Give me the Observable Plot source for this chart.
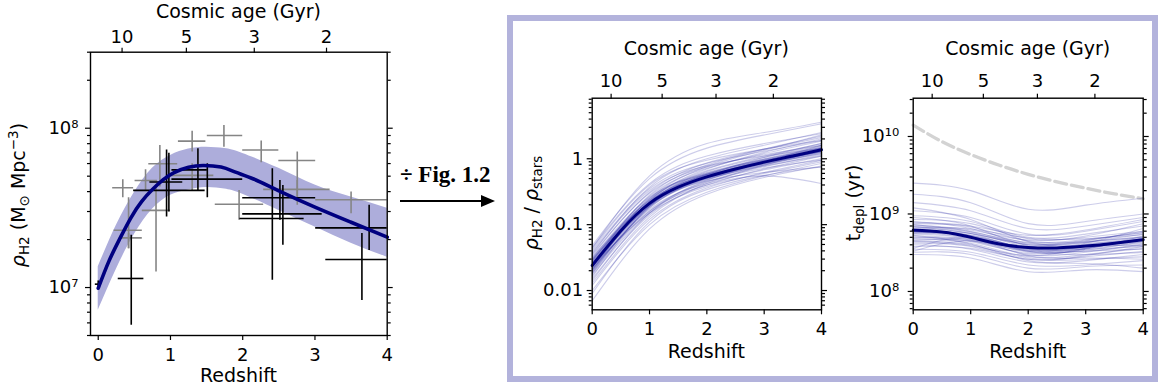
<!DOCTYPE html>
<html><head><meta charset="utf-8">
<script src="https://cdn.jsdelivr.net/npm/d3@7"></script>
<script src="https://cdn.jsdelivr.net/npm/@observablehq/plot@0.6"></script>
<style>
body{margin:0;background:#fff;font-family:"DejaVu Sans",sans-serif;}
#wrap{position:relative;width:1162px;height:388px;overflow:hidden;background:#fff;}
#wrap svg{position:absolute;overflow:visible;max-width:none;}
.box{position:absolute;left:507px;top:15px;width:639px;height:355px;border:6px solid #b3b3dc;}
</style></head><body><div id="wrap"><div class="box"></div></div>
<script>
// ---------- shared axis ticks ----------
const redshiftTicks = [0, 1, 2, 3, 4];
const ageTickZ = [0.33, 1.22, 2.16, 3.16];
const ageTickLabels = ["10", "5", "3", "2"];

// ---------- panel 1: rho_H2 ----------
const rhoZ      = [0, 0.15, 0.3, 0.45, 0.6, 0.75, 0.9, 1.05, 1.25, 1.45, 1.7, 1.9, 2.15, 2.5, 3, 3.5, 4];
const rhoMedian = [9.9e6, 1.47e7, 2.03e7, 2.73e7, 3.46e7, 4.12e7, 4.75e7, 5.27e7, 5.68e7, 5.84e7, 5.7e7, 5.3e7, 4.8e7, 4.05e7, 3.2e7, 2.57e7, 2.07e7];
const bandZ     = [0, 0.25, 0.5, 0.75, 1, 1.25, 1.5, 1.75, 2, 2.5, 3, 3.5, 4];
const rhoUpper  = [1.35e7, 2.45e7, 3.95e7, 5.6e7, 6.75e7, 7.4e7, 7.6e7, 7.45e7, 6.95e7, 5.6e7, 4.4e7, 3.7e7, 3.15e7];
const rhoLower  = [7.2e6, 1.3e7, 2.15e7, 3.1e7, 3.8e7, 4.1e7, 4.25e7, 4.15e7, 3.85e7, 3.05e7, 2.4e7, 1.9e7, 1.55e7];

const grayZ     = [0.34, 0.655, 0.853, 0.80, 0.42, 0.42, 1.30, 1.74, 2.256, 2.755, 2.755, 3.50, 1.95, 1.30];
const grayZLo   = [0.20, 0.51, 0.70, 0.61, 0.22, 0.29, 1.11, 1.51, 2.0, 2.5, 2.29, 3.01, 1.62, 1.02];
const grayZHi   = [0.49, 0.82, 1.10, 1.00, 0.61, 0.61, 1.49, 2.0, 2.5, 3.01, 3.21, 4.2, 2.29, 1.60];
const grayRho   = [4.23e7, 4.7e7, 5.98e7, 3.05e7, 2.29e7, 2.05e7, 8.3e7, 9.0e7, 7.3e7, 6.27e7, 4.13e7, 3.56e7, 3.33e7, 5.06e7];
const grayRhoLo = [3.66e7, 4.08e7, 4.27e7, 1.25e7, 1.75e7, 1.75e7, 7.08e7, 7.6e7, 6.07e7, 3.28e7, 3.52e7, 2.9e7, 2.64e7, 4.07e7];
const grayRhoHi = [4.74e7, 5.48e7, 7.78e7, 4.27e7, 3.66e7, 2.18e7, 9.57e7, 1.04e8, 8.3e7, 7.08e7, 4.7e7, 3.98e7, 4.07e7, 5.98e7];

const blackZ     = [0.0, 0.457, 0.946, 0.978, 1.38, 1.51, 2.41, 2.515, 2.556, 3.75, 3.65];
const blackZLo   = [-0.04, 0.277, 0.49, 0.715, 1.02, 1.02, 2.0, 2.0, 1.96, 3.01, 3.15];
const blackZHi   = [0.04, 0.632, 1.48, 1.17, 1.51, 2.0, 3.01, 3.1, 2.85, 4.2, 4.2];
const blackRho   = [1.05e7, 1.14e7, 4.07e7, 4.6e7, 5.48e7, 4.79e7, 3.66e7, 2.9e7, 2.71e7, 2.37e7, 1.5e7];
const blackRhoLo = [1.0e7, 5.8e6, 2.77e7, 2.98e7, 4.07e7, 3.66e7, 1.11e7, 2.64e7, 1.84e7, 1.71e7, 8.3e6];
const blackRhoHi = [1.1e7, 2.13e7, 7.3e7, 6.97e7, 7.43e7, 5.98e7, 5.56e7, 4.7e7, 4.37e7, 3.28e7, 2.18e7];

// ---------- panel 2: rho_H2 / rho_stars ----------
const ratioZ      = [0, 0.5, 1, 1.5, 2, 2.5, 3, 3.5, 4];
const ratioMedian = [0.024, 0.081, 0.21, 0.37, 0.53, 0.70, 0.89, 1.1, 1.37];
const drawZ = [0, 1, 2, 3, 4];
const ratioDraws = [
  [0.030,0.25,0.62,0.98,1.45],[0.020,0.18,0.50,0.85,1.30],[0.027,0.24,0.66,1.10,1.70],
  [0.018,0.16,0.45,0.76,1.15],[0.035,0.30,0.75,1.15,1.60],[0.015,0.14,0.40,0.70,1.10],
  [0.022,0.22,0.60,1.00,1.55],[0.026,0.19,0.48,0.80,1.25],[0.040,0.35,0.85,1.30,1.90],
  [0.012,0.12,0.36,0.62,0.95],[0.028,0.27,0.72,1.20,1.85],[0.021,0.17,0.42,0.68,1.00],
  [0.045,0.42,1.10,1.70,2.40],[0.010,0.10,0.31,0.55,0.85],[0.032,0.23,0.55,0.88,1.30],
  [0.019,0.20,0.58,0.98,1.50],[0.048,0.50,1.45,2.30,3.40],[0.007,0.086,0.29,0.52,0.78],
  [0.025,0.28,0.80,1.40,2.20],[0.023,0.15,0.38,0.60,0.90],[0.038,0.33,0.78,1.10,1.45],
  [0.016,0.19,0.57,1.05,1.70],[0.029,0.21,0.50,0.78,1.10],[0.020,0.23,0.70,1.25,2.00],
  [0.042,0.40,0.95,1.40,1.90],[0.013,0.13,0.42,0.80,1.35],[0.031,0.26,0.58,0.85,1.20],
  [0.024,0.25,0.76,1.35,2.30],[0.017,0.15,0.44,0.72,0.95],[0.036,0.37,1.00,1.60,2.50],
  [0.009,0.11,0.34,0.56,0.75],[0.027,0.20,0.46,0.62,0.75],[0.044,0.55,1.70,2.50,3.60],
  [0.014,0.15,0.47,0.90,1.60],[0.033,0.31,0.86,1.40,2.10],[0.021,0.16,0.40,0.55,0.42],
  [0.025,0.22,0.64,1.05,1.60],[0.019,0.18,0.53,0.92,1.40],[0.029,0.24,0.60,0.95,1.35],
  [0.022,0.20,0.52,0.82,1.20],[0.024,0.22,0.57,0.93,1.42],[0.026,0.21,0.54,0.86,1.28],
  [0.023,0.19,0.51,0.88,1.36],[0.028,0.23,0.56,0.90,1.33],[0.021,0.21,0.58,0.96,1.48],
  [0.025,0.20,0.49,0.83,1.26],[0.030,0.22,0.53,0.87,1.30],[0.018,0.19,0.55,0.94,1.45]
];

// ---------- panel 3: depletion time ----------
const deplZ      = [0, 0.5, 1, 1.5, 2, 2.5, 3, 3.5, 4];
const deplMedian = [6.15e8, 5.85e8, 5.0e8, 4.1e8, 3.7e8, 3.65e8, 3.85e8, 4.2e8, 4.65e8];
const ageLine    = [1.4e10, 8.6e9, 5.85e9, 4.25e9, 3.25e9, 2.6e9, 2.15e9, 1.82e9, 1.57e9];
const deplDraws = [
  [2.5e9,2.0e9,1.15e9,1.3e9,1.6e9],[1.8e9,1.4e9,7.5e8,8.0e8,1.0e9],[1.4e9,1.1e9,6.5e8,7.0e8,9.0e8],
  [1.1e9,9.0e8,5.5e8,6.0e8,8.0e8],[9.5e8,8.0e8,5.0e8,5.5e8,7.0e8],[8.5e8,7.5e8,4.8e8,5.0e8,6.0e8],
  [8.0e8,6.5e8,4.2e8,4.6e8,5.8e8],[7.5e8,6.8e8,4.5e8,4.4e8,5.0e8],[7.0e8,6.0e8,4.0e8,4.3e8,5.5e8],
  [6.8e8,5.8e8,3.8e8,4.2e8,6.5e8],[6.5e8,5.6e8,3.5e8,3.6e8,4.2e8],[6.0e8,5.2e8,3.4e8,3.8e8,4.8e8],
  [5.8e8,5.3e8,3.6e8,3.5e8,3.8e8],[5.5e8,4.8e8,3.2e8,3.4e8,4.4e8],[5.2e8,4.6e8,3.0e8,3.2e8,4.0e8],
  [5.0e8,4.4e8,3.1e8,3.5e8,5.2e8],[4.8e8,4.2e8,2.8e8,3.0e8,3.6e8],[4.5e8,4.0e8,2.7e8,2.8e8,3.3e8],
  [4.2e8,3.8e8,2.6e8,2.9e8,3.8e8],[4.0e8,3.5e8,2.4e8,2.5e8,3.0e8],[3.8e8,3.6e8,2.6e8,2.6e8,2.8e8],
  [3.5e8,3.2e8,2.2e8,2.2e8,2.5e8],[3.2e8,3.0e8,2.0e8,2.1e8,2.2e8],[3.0e8,2.7e8,1.8e8,1.9e8,1.8e8],
  [3.3e8,4.5e8,3.3e8,3.0e8,3.2e8],[3.6e8,5.0e8,3.6e8,4.0e8,5.0e8],[9.0e8,7.0e8,3.9e8,4.1e8,4.6e8],
  [7.2e8,6.2e8,4.6e8,5.2e8,7.5e8],[6.3e8,5.0e8,2.9e8,2.7e8,2.6e8],[5.6e8,5.6e8,4.0e8,4.5e8,6.0e8],
  [1.2e9,8.5e8,4.4e8,3.9e8,3.9e8],[6.6e8,6.4e8,4.9e8,4.8e8,5.4e8],[4.6e8,4.5e8,3.3e8,3.3e8,3.5e8],
  [5.3e8,4.1e8,2.5e8,2.3e8,2.0e8],[7.8e8,7.0e8,5.3e8,6.2e8,8.5e8],[4.4e8,3.9e8,2.9e8,3.6e8,4.6e8],
  [6.4e8,5.3e8,3.7e8,3.9e8,4.7e8],[5.9e8,4.9e8,3.5e8,3.7e8,4.4e8],[6.9e8,5.6e8,4.1e8,4.3e8,5.1e8],
  [5.7e8,5.1e8,3.3e8,3.6e8,4.9e8],[7.3e8,5.9e8,4.3e8,4.7e8,5.7e8],[4.9e8,4.7e8,3.4e8,3.3e8,4.1e8]
];

// ---------- helpers (build tables from the arrays) ----------
const supDigits = {"0":"⁰","1":"¹","2":"²","3":"³","4":"⁴","5":"⁵","6":"⁶","7":"⁷","8":"⁸","9":"⁹"};
const pow10Label = d => "10" + String(Math.round(Math.log10(d))).split("").map(c => supDigits[c]).join("");
function minorTicks(lo, hi) {
  const out = [];
  for (let e = Math.floor(Math.log10(lo)); e <= Math.ceil(Math.log10(hi)); e++)
    for (let m = 2; m <= 9; m++) { const v = m * Math.pow(10, e); if (v >= lo && v <= hi) out.push(v); }
  return out;
}
const ageMap = new Map(ageTickZ.map((z, i) => [z, ageTickLabels[i]]));
const seriesRows = (xs, ys) => xs.map((x, i) => ({z: x, v: ys[i]}));
const drawRows = draws => draws.flatMap((d, k) => drawZ.map((z, i) => ({z, v: d[i], id: k})));

function axes(cfg) {
  const minors = minorTicks(cfg.yDomain[0], cfg.yDomain[1]);
  const common = {strokeWidth: 1.2, label: null};
  return [
    Plot.frame({stroke: "black", strokeWidth: 1.4}),
    Plot.axisX(redshiftTicks, {...common, anchor: "bottom", tickSize: 5, tickPadding: cfg.padBottom}),
    Plot.axisX(ageTickZ, {...common, anchor: "top", tickSize: 5, tickPadding: cfg.padTop, tickFormat: d => ageMap.get(d)}),
    Plot.axisY(cfg.majors, {...common, anchor: "left", tickSize: 5, tickPadding: cfg.padLeft, tickFormat: cfg.fmt}),
    Plot.axisY(minors, {...common, anchor: "left", tickSize: 3, tickFormat: () => ""}),
    Plot.axisY(cfg.majors, {...common, anchor: "right", tickSize: 5, tickFormat: () => ""}),
    Plot.axisY(minors, {...common, anchor: "right", tickSize: 3, tickFormat: () => ""})
  ];
}
function makePanel(cfg, marks) {
  const svg = Plot.plot({
    width: cfg.width, height: 388,
    marginLeft: cfg.ml, marginRight: cfg.mr, marginTop: cfg.mt, marginBottom: cfg.mb,
    x: {domain: cfg.xDomain},
    y: {type: "log", domain: cfg.yDomain},
    style: {fontFamily: "DejaVu Sans", fontSize: "18px", color: "black", background: "transparent", overflow: "visible"},
    marks: [...marks, ...axes(cfg)]
  });
  svg.style.left = cfg.left + "px";
  svg.style.top = "0px";
  document.getElementById("wrap").appendChild(svg);
}

// ---------- panel 1 ----------
const bandRows = bandZ.map((z, i) => ({z, lo: rhoLower[i], hi: rhoUpper[i]}));
const grayRows = grayZ.map((z, i) => ({z, zlo: grayZLo[i], zhi: grayZHi[i], v: grayRho[i], vlo: grayRhoLo[i], vhi: grayRhoHi[i]}));
const blackRows = blackZ.map((z, i) => ({z, zlo: blackZLo[i], zhi: blackZHi[i], v: blackRho[i], vlo: blackRhoLo[i], vhi: blackRhoHi[i]}));
const crossMarks = (rows, color) => [
  Plot.ruleX(rows, {x: "z", y1: "vlo", y2: "vhi", stroke: color, strokeWidth: 1.6, clip: true}),
  Plot.ruleY(rows, {y: "v", x1: "zlo", x2: "zhi", stroke: color, strokeWidth: 1.6, clip: true})
];
makePanel({width: 400, left: 0, ml: 90, mr: 13.3, mt: 51.7, mb: 53, xDomain: [-0.107, 4], yDomain: [5e6, 3e8],
  majors: [1e7, 1e8], fmt: pow10Label, padBottom: 8, padTop: 4, padLeft: 7}, [
  Plot.areaY(bandRows, {x: "z", y1: "lo", y2: "hi", fill: "#adaddb", curve: "natural"}),
  ...crossMarks(grayRows, "#858585"),
  ...crossMarks(blackRows, "#000000"),
  Plot.line(seriesRows(rhoZ, rhoMedian), {x: "z", y: "v", stroke: "#000080", strokeWidth: 3.6, curve: "natural"})
]);

// ---------- panel 2 ----------
makePanel({width: 340, left: 500, ml: 91.7, mr: 19, mt: 97.7, mb: 78.7, xDomain: [0, 4], yDomain: [0.0051, 8.3],
  majors: [0.01, 0.1, 1], fmt: d => String(d), padBottom: 7.5, padTop: 6, padLeft: 4}, [
  Plot.line(drawRows(ratioDraws), {x: "z", y: "v", z: "id", stroke: "#1c1ca0", strokeOpacity: 0.22, strokeWidth: 1.1, curve: "natural", clip: true}),
  Plot.line(seriesRows(ratioZ, ratioMedian), {x: "z", y: "v", stroke: "#000080", strokeWidth: 3, curve: "natural"})
]);

// ---------- panel 3 ----------
makePanel({width: 332, left: 830, ml: 82.7, mr: 19.3, mt: 97.7, mb: 78.7, xDomain: [0, 4], yDomain: [5.8e7, 3.12e10],
  majors: [1e8, 1e9, 1e10], fmt: pow10Label, padBottom: 7.5, padTop: 6, padLeft: 9}, [
  Plot.line(seriesRows(deplZ, ageLine), {x: "z", y: "v", stroke: "#d3d3d3", strokeWidth: 3.3, strokeDasharray: "12,5", curve: "natural"}),
  Plot.line(drawRows(deplDraws), {x: "z", y: "v", z: "id", stroke: "#1c1ca0", strokeOpacity: 0.22, strokeWidth: 1.1, curve: "natural", clip: true}),
  Plot.line(seriesRows(deplZ, deplMedian), {x: "z", y: "v", stroke: "#000080", strokeWidth: 3, curve: "natural"})
]);

// ---------- titles, axis labels, arrow ----------
const ov = d3.select("#wrap").append("svg")
  .attr("width", 1162).attr("height", 388).style("left", "0px").style("top", "0px")
  .attr("font-family", "DejaVu Sans").attr("font-size", 19).attr("fill", "black");
[[238.5, 18, 381.5], [706.3, 55, 357.5], [1027.7, 55, 357.5]].forEach(([cx, ty, by]) => {
  ov.append("text").attr("x", cx).attr("y", ty).attr("text-anchor", "middle").text("Cosmic age (Gyr)");
  ov.append("text").attr("x", cx).attr("y", by).attr("text-anchor", "middle").text("Redshift");
});
function ylabel(x, y, parts) {
  const t = ov.append("text").attr("transform", `translate(${x},${y}) rotate(-90)`).attr("text-anchor", "middle");
  let cur = 0;
  parts.forEach(([txt, shift, small, italic]) => {
    const s = t.append("tspan").attr("dy", shift - cur).text(txt);
    cur = shift;
    if (small) s.attr("font-size", 13.5);
    if (italic) s.attr("font-style", "italic");
  });
}
ylabel(25, 195, [["ρ", 0, false, true], ["H2", 4, true], [" (M", 0], ["⊙", 4, true], [" Mpc", 0], ["−3", -7, true], [")", 0]]);
ylabel(538, 203, [["ρ", 0, false, true], ["H2", 4, true], [" / ", 0], ["ρ", 0, false, true], ["stars", 4, true]]);
ylabel(860, 203, [["t", 0], ["depl", 4, true], [" (yr)", 0]]);

ov.append("text").attr("x", 400).attr("y", 182).attr("font-family", "Liberation Serif")
  .attr("font-weight", "bold").attr("font-size", 23).text("÷ Fig. 1.2");
ov.append("line").attr("x1", 400).attr("x2", 484).attr("y1", 201).attr("y2", 201).attr("stroke", "black").attr("stroke-width", 2);
ov.append("path").attr("d", "M481,195 L495,201 L481,207 Z").attr("fill", "black");
</script></body></html>
